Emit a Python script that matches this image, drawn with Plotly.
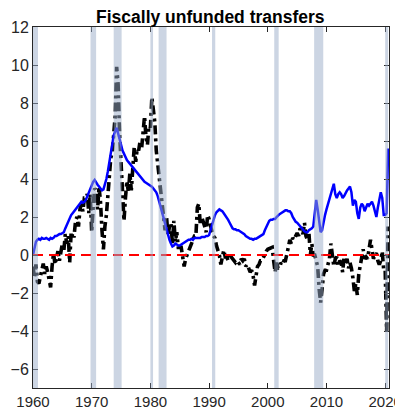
import plotly.graph_objects as go

start_year = 1960
step = 0.25  # quarterly

implied = [
    0.0, 0.45, 0.7, 0.8,      # 1960
    0.85, 0.8, 0.9, 0.85,     # 1961
    0.85, 0.9, 0.85, 0.8,     # 1962
    0.9, 0.85, 0.9, 1.0,      # 1963
    1.0, 1.05, 1.1, 1.1,      # 1964
    1.15, 1.2, 1.4, 1.6,      # 1965
    1.75, 1.9, 2.1, 2.2,      # 1966
    2.3, 2.4, 2.5, 2.6,       # 1967
    2.7, 2.8, 2.75, 2.8,      # 1968
    2.9, 3.1, 3.3, 3.5,       # 1969
    3.7, 3.85, 3.95, 3.8,     # 1970
    3.7, 3.6, 3.5, 3.4,       # 1971
    3.45, 3.7, 4.0, 4.4,      # 1972
    4.9, 5.4, 5.9, 6.3,       # 1973
    6.5, 6.7, 6.4, 6.0,       # 1974
    5.8, 5.5, 5.3, 5.1,       # 1975
    5.0, 4.9, 4.8, 4.7,       # 1976
    4.6, 4.5, 4.4, 4.3,       # 1977
    4.2, 4.1, 4.0, 3.9,       # 1978
    3.85, 3.8, 3.75, 3.7,     # 1979
    3.65, 3.6, 3.5, 3.4,      # 1980
    3.3, 3.1, 2.8, 2.5,       # 1981
    2.2, 1.9, 1.6, 1.3,       # 1982
    1.0, 0.8, 0.6, 0.45,      # 1983
    0.5, 0.6, 0.55, 0.5,      # 1984
    0.5, 0.55, 0.6, 0.65,     # 1985
    0.7, 0.75, 0.8, 0.8,      # 1986
    0.85, 0.8, 0.9, 0.9,      # 1987
    0.9, 0.9, 0.9, 0.95,      # 1988
    0.95, 0.95, 1.0, 1.0,     # 1989
    1.05, 1.3, 1.6, 1.9,      # 1990
    2.1, 2.25, 2.35, 2.4,     # 1991
    2.35, 2.3, 2.2, 2.1,      # 1992
    2.0, 1.85, 1.7, 1.55,     # 1993
    1.4, 1.35, 1.35, 1.3,     # 1994
    1.3, 1.25, 1.2, 1.15,     # 1995
    1.1, 1.0, 0.95, 0.9,      # 1996
    0.85, 0.85, 0.8, 0.85,    # 1997
    0.85, 0.9, 0.95, 1.0,     # 1998
    1.05, 1.1, 1.3, 1.5,      # 1999
    1.7, 1.8, 1.85, 1.85,     # 2000
    1.9, 1.9, 2.0, 2.1,       # 2001
    2.15, 2.2, 2.25, 2.3,     # 2002
    2.35, 2.35, 2.3, 2.3,     # 2003
    2.2, 2.0, 1.85, 1.75,     # 2004
    1.7, 1.6, 1.5, 1.4,       # 2005
    1.3, 1.25, 1.2, 1.2,      # 2006
    1.3, 1.35, 1.4, 1.5,      # 2007
    2.4, 2.9, 2.4, 1.6,       # 2008
    1.2, 1.3, 1.8, 2.1,       # 2009
    2.4, 2.7, 3.0, 3.3,       # 2010
    3.6, 3.75, 3.2, 3.0,      # 2011
    3.2, 3.3, 3.2, 3.0,       # 2012
    3.1, 3.3, 3.4, 3.5,       # 2013
    3.6, 3.3, 2.6, 2.9,       # 2014
    2.8, 2.2, 1.9, 2.5,       # 2015
    2.7, 2.6, 2.3, 2.5,       # 2016
    2.7, 2.6, 2.7, 2.8,       # 2017
    2.6, 2.2, 2.0, 2.5,       # 2018
    2.9, 3.3, 3.0, 2.1,       # 2019
    2.1, 2.2, 5.6,            # 2020
]

realized = [
    -0.6, -1.2, -0.5, -1.4,   # 1960
    -1.5, -1.1, -0.9, -0.45,  # 1961
    -1.0, -0.6, -0.9, -1.3,   # 1962
    -1.7, -0.6, 0.1, -0.5,    # 1963
    -0.2, 0.2, -0.3, 0.1,     # 1964
    0.6, 0.2, 1.1, 0.6,       # 1965
    1.0, -0.4, 1.2, 1.0,      # 1966
    1.0, 1.8, 2.0, 1.5,       # 1967
    2.4, 2.7, 2.3, 3.0,       # 1968
    3.0, 3.2, 2.2, 3.2,       # 1969
    1.2, 2.5, 3.5, 3.4,       # 1970
    2.4, 3.6, 2.8, 1.3,       # 1971
    0.3, 1.5, 2.1, 3.1,       # 1972
    4.1, 5.1, 5.4, 6.5,       # 1973
    7.3, 9.9, 9.0, 6.4,       # 1974
    4.6, 3.4, 1.8, 3.0,       # 1975
    3.9, 3.3, 4.3, 3.4,       # 1976
    4.6, 5.7, 4.9, 5.6,       # 1977
    5.5, 6.0, 5.6, 6.5,       # 1978
    7.3, 6.2, 5.8, 6.8,       # 1979
    6.7, 8.3, 7.6, 7.0,       # 1980
    5.5, 4.8, 4.1, 3.5,       # 1981
    3.1, 2.4, 1.3, 2.0,       # 1982
    1.0, 1.5, 1.7, 0.6,       # 1983
    1.8, 0.7, 1.2, 0.4,       # 1984
    0.4, 0.4, -0.1, -0.6,     # 1985
    -0.2, 0.0, 0.3, 0.5,      # 1986
    0.7, 0.8, 1.0, 1.0,       # 1987
    2.5, 2.7, 1.6, 2.0,       # 1988
    1.8, 1.5, 1.2, 2.1,       # 1989
    1.9, 1.5, 1.2, 1.0,       # 1990
    0.9, 0.5, 0.2, 0.0,       # 1991
    -0.5, -0.2, 0.25, -0.1,   # 1992
    -0.1, -0.3, 0.1, -0.1,    # 1993
    -0.2, -0.3, -0.4, -0.3,   # 1994
    -0.4, -0.5, -0.2, -0.3,   # 1995
    -0.2, -0.6, -0.5, -0.7,   # 1996
    -0.9, -0.8, -1.1, -1.6,   # 1997
    -0.9, -0.6, -0.5, -0.3,   # 1998
    -0.3, -0.1, 0.0, 0.2,     # 1999
    0.3, 0.35, 0.4, 0.4,      # 2000
    -0.3, -0.9, -0.4, -0.7,   # 2001
    -0.7, -0.4, -0.5, -0.3,   # 2002
    -0.3, 0.2, 0.4, 0.8,      # 2003
    0.6, 0.9, 0.8, 1.0,       # 2004
    1.15, 1.0, 1.4, 1.3,      # 2005
    1.1, 1.7, 1.0, 0.8,       # 2006
    1.2, 0.0, 0.6, 0.0,       # 2007
    0.0, -0.3, -0.6, -1.8,    # 2008
    -2.5, -1.8, -1.0, -0.8,   # 2009
    -0.8, -0.5, -0.2, 0.6,    # 2010
    0.1, -0.6, -0.2, -0.1,    # 2011
    -0.6, -0.3, -0.4, -0.9,   # 2012
    -0.1, -0.5, -0.2, -0.7,   # 2013
    -0.4, -0.7, -1.2, -1.9,   # 2014
    -1.5, -2.1, -1.0, -0.5,   # 2015
    -0.3, 0.3, -0.2, -0.1,    # 2016
    -0.2, 0.4, 0.8, 0.3,      # 2017
    -0.2, 0.0, 0.1, -0.3,     # 2018
    -0.5, -0.3, 0.2, -0.8,    # 2019
    -0.8, -4.0, 1.5,          # 2020
]

# NBER recessions (start, end) in fractional years
rec_start = [1960.0, 1969.8, 1973.75, 1980.0, 1981.4, 1990.5, 2001.1, 2007.9, 2020.0]
rec_end = [1960.85, 1970.75, 1975.1, 1980.45, 1982.75, 1991.05, 2001.85, 2009.45, 2020.5]

x_ticks = [1960, 1970, 1980, 1990, 2000, 2010, 2020]
y_ticks = [-6, -4, -2, 0, 2, 4, 6, 8, 10, 12]

dates_b = [start_year + i * step for i in range(len(implied))]
dates_k = [start_year + i * step for i in range(len(realized))]

fig = go.Figure()

fig.add_trace(go.Scatter(x=dates_k, y=realized, mode="lines",
                         line=dict(color="black", width=3.6, dash="9px,4px,3px,4px")))
fig.add_trace(go.Scatter(x=dates_b, y=implied, mode="lines",
                         line=dict(color="#0000ff", width=2.5)))
fig.add_trace(go.Scatter(x=[1960, 2020.65], y=[0, 0], mode="lines",
                         line=dict(color="#ff0000", width=2.2, dash="10px,6px")))

for a, b in zip(rec_start, rec_end):
    fig.add_shape(type="rect", xref="x", yref="y", x0=a, x1=b, y0=-7, y1=12,
                  fillcolor="rgb(153,171,200)", opacity=0.5, line_width=0, layer="above")

axis_common = dict(showline=True, linecolor="#262626", linewidth=1, mirror="ticks",
                   ticks="inside", ticklen=5, tickcolor="#262626", showgrid=False,
                   zeroline=False, automargin=False, ticklabeloverflow="allow")

fig.update_xaxes(range=[1960, 2020.65], tickvals=x_ticks,
                 tickfont=dict(family="Liberation Sans, Arial", size=15, color="#262626"),
                 **axis_common)
fig.update_yaxes(range=[-7, 12], tickvals=y_ticks,
                 tickfont=dict(family="Liberation Sans, Arial", size=16, color="#262626"),
                 **axis_common)

# page body adds an 8px offset; the plot area is placed to match the window
fig.update_layout(
    width=403, height=406,
    margin=dict(l=25, r=22, t=19, b=26),
    plot_bgcolor="white", paper_bgcolor="white",
    showlegend=False,
    title=dict(text="<b>Fiscally unfunded transfers</b>", x=0.502, xanchor="center",
               y=0.979, yanchor="middle",
               font=dict(family="Liberation Sans, Arial", size=17.5, color="black")),
)

fig.write_html("out.html")
